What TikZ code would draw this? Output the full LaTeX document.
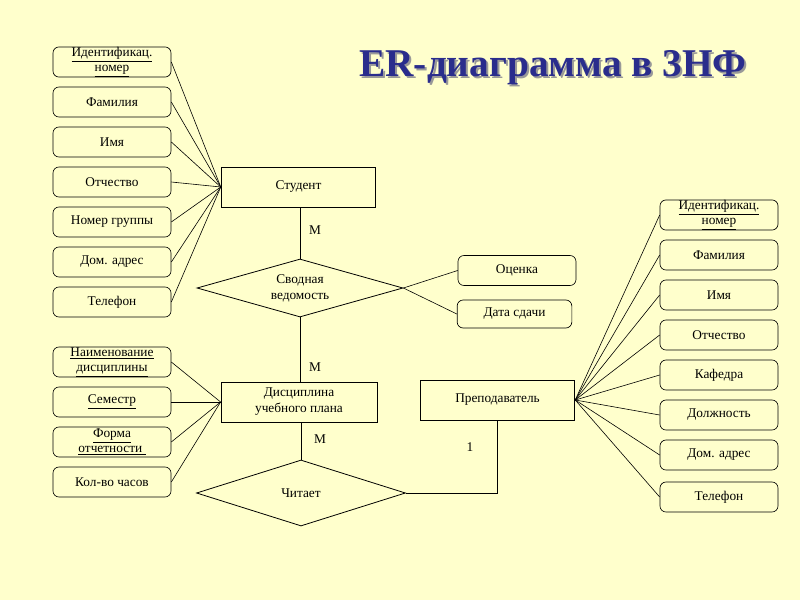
\documentclass[tikz,border=0pt]{standalone}
\usepackage{fontspec}
\setmainfont{Liberation Serif}
\usetikzlibrary{shapes.geometric,calc}
\definecolor{bg}{RGB}{255,255,204}
\definecolor{titleblue}{RGB}{42,45,140}
\begin{document}
\begin{tikzpicture}[x=0.75pt,y=-0.75pt,
  attr/.style={draw=black,rounded corners=4.5pt,minimum width=88.5pt,minimum height=22.5pt,inner sep=0pt,align=center,font=\fontsize{10}{11.5}\selectfont,line width=0.5pt},
  ent/.style={draw=black,minimum width=116pt,minimum height=30pt,inner sep=0pt,align=center,font=\fontsize{10}{12}\selectfont,line width=0.6pt},
  rel/.style={draw=black,shape=diamond,inner sep=0pt,align=center,font=\fontsize{10}{12}\selectfont,line width=0.6pt},
  conn/.style={draw=black,line width=0.45pt},
  lbl/.style={font=\fontsize{10}{11}\selectfont,inner sep=0pt}]
\fill[bg] (0,0) rectangle (800,600);
\useasboundingbox (0,0) rectangle (800,600);
% title
\node[font=\fontsize{29.5}{32}\selectfont\bfseries,text=black!40] (titleshadow) at (555,70) {ER-диаграмма в 3НФ};
\node[font=\fontsize{29.5}{32}\selectfont\bfseries,text=titleblue] (title) at (553,68) {ER-диаграмма в 3НФ};
% entities
\node[ent] (stud) at (298.5,187) {Студент};
\node[ent,minimum width=117pt] (disc) at (299,402) {Дисциплина\\учебного плана};
\node[ent] (prep) at (497.5,400) {Преподаватель};
% relationships
\node[rel,aspect=3.55,minimum width=154.5pt,minimum height=43.5pt] (sv) at (300,288) {Сводная\\ведомость};
\node[rel,aspect=3.17,minimum width=156.75pt,minimum height=49.5pt] (chit) at (301,493) {Читает};
% left attributes (student)
\node[attr] (s1) at (112,62) {\underline{Идентификац.}\\\underline{номер}};
\node[attr] (s2) at (112,102) {Фамилия};
\node[attr] (s3) at (112,142) {Имя};
\node[attr] (s4) at (112,182) {Отчество};
\node[attr] (s5) at (112,222) {Номер группы};
\node[attr] (s6) at (112,262) {Дом. адрес};
\node[attr] (s7) at (112,302) {Телефон};
% left attributes (discipline)
\node[attr] (d1) at (112,362) {\underline{Наименование}\\\underline{дисциплины}};
\node[attr] (d2) at (112,402) {\underline{Семестр}};
\node[attr] (d3) at (112,442) {\underline{Форма}\\\underline{отчетности }};
\node[attr] (d4) at (112,482) {Кол-во часов};
% relation attributes
\node[attr] (ot) at (517,270.5) {Оценка};
\node[attr,minimum width=86pt,minimum height=21pt] (ds) at (514.5,314) {Дата сдачи};
% right attributes (teacher)
\node[attr] (p1) at (719,215) {\underline{Идентификац.}\\\underline{номер}};
\node[attr] (p2) at (719,255) {Фамилия};
\node[attr] (p3) at (719,295) {Имя};
\node[attr] (p4) at (719,335) {Отчество};
\node[attr] (p5) at (719,375) {Кафедра};
\node[attr] (p6) at (719,415) {Должность};
\node[attr] (p7) at (719,455) {Дом. адрес};
\node[attr] (p8) at (719,497) {Телефон};
% connectors
\foreach \a in {s1,s2,s3,s4,s5,s6,s7} \draw[conn] (\a.east) -- (stud.west);
\foreach \a in {d1,d2,d3,d4} \draw[conn] (\a.east) -- (disc.west);
\foreach \a in {p1,p2,p3,p4,p5,p6,p7,p8} \draw[conn] (\a.west) -- (prep.east);
\draw[conn] (sv.north) -- (sv.north |- stud.south);
\draw[conn] (sv.south) -- (sv.south |- disc.north);
\draw[conn] (chit.north) -- (chit.north |- disc.south);
\draw[conn] (chit.east) -| (prep.south);
\draw[conn] (sv.east) -- (ot.west);
\draw[conn] (sv.east) -- (ds.west);
% cardinalities
\node[lbl] (m1) at (315,230) {М};
\node[lbl] (m2) at (315,367) {М};
\node[lbl] (m3) at (320,439) {М};
\node[lbl] (one) at (470,447) {1};
\end{tikzpicture}
\end{document}
